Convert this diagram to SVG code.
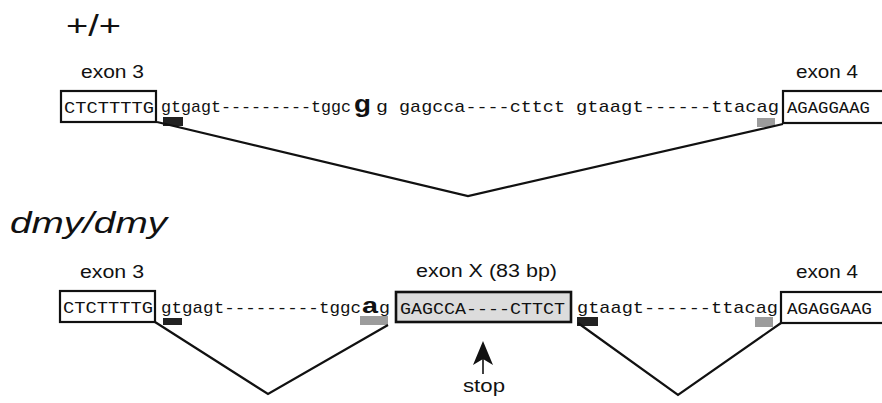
<svg xmlns="http://www.w3.org/2000/svg" width="882" height="403" viewBox="0 0 882 403">
<defs>
<style>
.lbl{font-family:"Liberation Sans",Arial,sans-serif;fill:#111;}
.seq{font-family:"Liberation Mono","Courier New",monospace;font-size:17px;fill:#111;}
.box{fill:#fff;stroke:#111;stroke-width:2.2;}
.boxX{fill:#dcdcdc;stroke:#111;stroke-width:2.6;}
.dark{fill:#222;}
.gray{fill:#9c9c9c;}
.conn{fill:none;stroke:#111;stroke-width:2.2;stroke-linejoin:miter;}
</style>
</defs>
<rect width="882" height="403" fill="#fff"/>

<!-- Titles -->
<text class="lbl" x="66" y="36" font-size="30" textLength="55" lengthAdjust="spacingAndGlyphs">+/+</text>
<text class="lbl" x="10" y="233" font-size="29" font-style="italic" textLength="157" lengthAdjust="spacingAndGlyphs">dmy/dmy</text>

<!-- Top row -->
<g id="top-exon3">
<text class="lbl" x="81" y="78" font-size="18" textLength="63" lengthAdjust="spacingAndGlyphs">exon 3</text>
<rect class="box" x="61" y="91" width="95" height="31"/>
<text class="seq" x="64" y="113" textLength="90" lengthAdjust="spacingAndGlyphs">CTCTTTTG</text>
</g>
<g id="top-intron">
<text class="seq" x="161" y="112" textLength="190" lengthAdjust="spacingAndGlyphs">gtgagt---------tggc</text>
<text class="lbl" x="354" y="112" font-size="24" font-weight="bold" textLength="17" lengthAdjust="spacingAndGlyphs">g</text>
<text class="seq" x="376" y="112" textLength="12" lengthAdjust="spacingAndGlyphs">g</text>
<text class="seq" x="399" y="112" textLength="166" lengthAdjust="spacingAndGlyphs">gagcca----cttct</text>
<text class="seq" x="576" y="112" textLength="203" lengthAdjust="spacingAndGlyphs">gtaagt------ttacag</text>
<rect class="dark" x="163" y="117" width="20" height="9"/>
<rect class="gray" x="757" y="118" width="18" height="9"/>
</g>
<g id="top-exon4">
<text class="lbl" x="796" y="78" font-size="18" textLength="62" lengthAdjust="spacingAndGlyphs">exon 4</text>
<rect class="box" x="783" y="91" width="110" height="32"/>
<text class="seq" x="787" y="113" textLength="83" lengthAdjust="spacingAndGlyphs">AGAGGAAG</text>
</g>

<!-- Bottom row -->
<g id="bot-exon3">
<text class="lbl" x="80" y="278" font-size="18" textLength="64" lengthAdjust="spacingAndGlyphs">exon 3</text>
<rect class="box" x="60" y="291" width="95" height="31"/>
<text class="seq" x="63" y="313" textLength="90" lengthAdjust="spacingAndGlyphs">CTCTTTTG</text>
</g>
<g id="bot-intron1">
<text class="seq" x="161" y="313" textLength="200" lengthAdjust="spacingAndGlyphs">gtgagt---------tggc</text>
<text class="lbl" x="362" y="313" font-size="22" font-weight="bold" textLength="16" lengthAdjust="spacingAndGlyphs">a</text>
<text class="seq" x="379" y="313" textLength="11" lengthAdjust="spacingAndGlyphs">g</text>
<rect class="dark" x="163" y="318" width="19" height="7"/>
<rect class="gray" x="360" y="316" width="28" height="9"/>
</g>
<g id="bot-exonX">
<text class="lbl" x="416" y="277" font-size="18" textLength="141" lengthAdjust="spacingAndGlyphs">exon X (83 bp)</text>
<rect class="boxX" x="396" y="292" width="175" height="30"/>
<text class="seq" x="400" y="314" textLength="165" lengthAdjust="spacingAndGlyphs">GAGCCA----CTTCT</text>
</g>
<g id="bot-intron2">
<text class="seq" x="577" y="313" textLength="201" lengthAdjust="spacingAndGlyphs">gtaagt------ttacag</text>
<rect class="dark" x="577" y="317" width="21" height="9"/>
<rect class="gray" x="755" y="317" width="18" height="10"/>
</g>
<g id="bot-exon4">
<text class="lbl" x="796" y="278" font-size="18" textLength="62" lengthAdjust="spacingAndGlyphs">exon 4</text>
<rect class="box" x="781" y="292" width="110" height="31"/>
<text class="seq" x="787" y="314" textLength="85" lengthAdjust="spacingAndGlyphs">AGAGGAAG</text>
</g>
<g id="stop">
<path d="M483,341 L493,365 L483,359 L473,365 Z" fill="#111"/>
<line x1="483" y1="359" x2="483" y2="374" stroke="#111" stroke-width="1.6"/>
<text class="lbl" x="463" y="392" font-size="19" textLength="42" lengthAdjust="spacingAndGlyphs">stop</text>
</g>

<!-- Connectors -->
<g id="connectors">
<polyline class="conn" points="157,122 468,196 783,124"/>
<polyline class="conn" points="155,322 268,394 388,325"/>
<polyline class="conn" points="578,323 678,395 781,323"/>
</g>
</svg>
